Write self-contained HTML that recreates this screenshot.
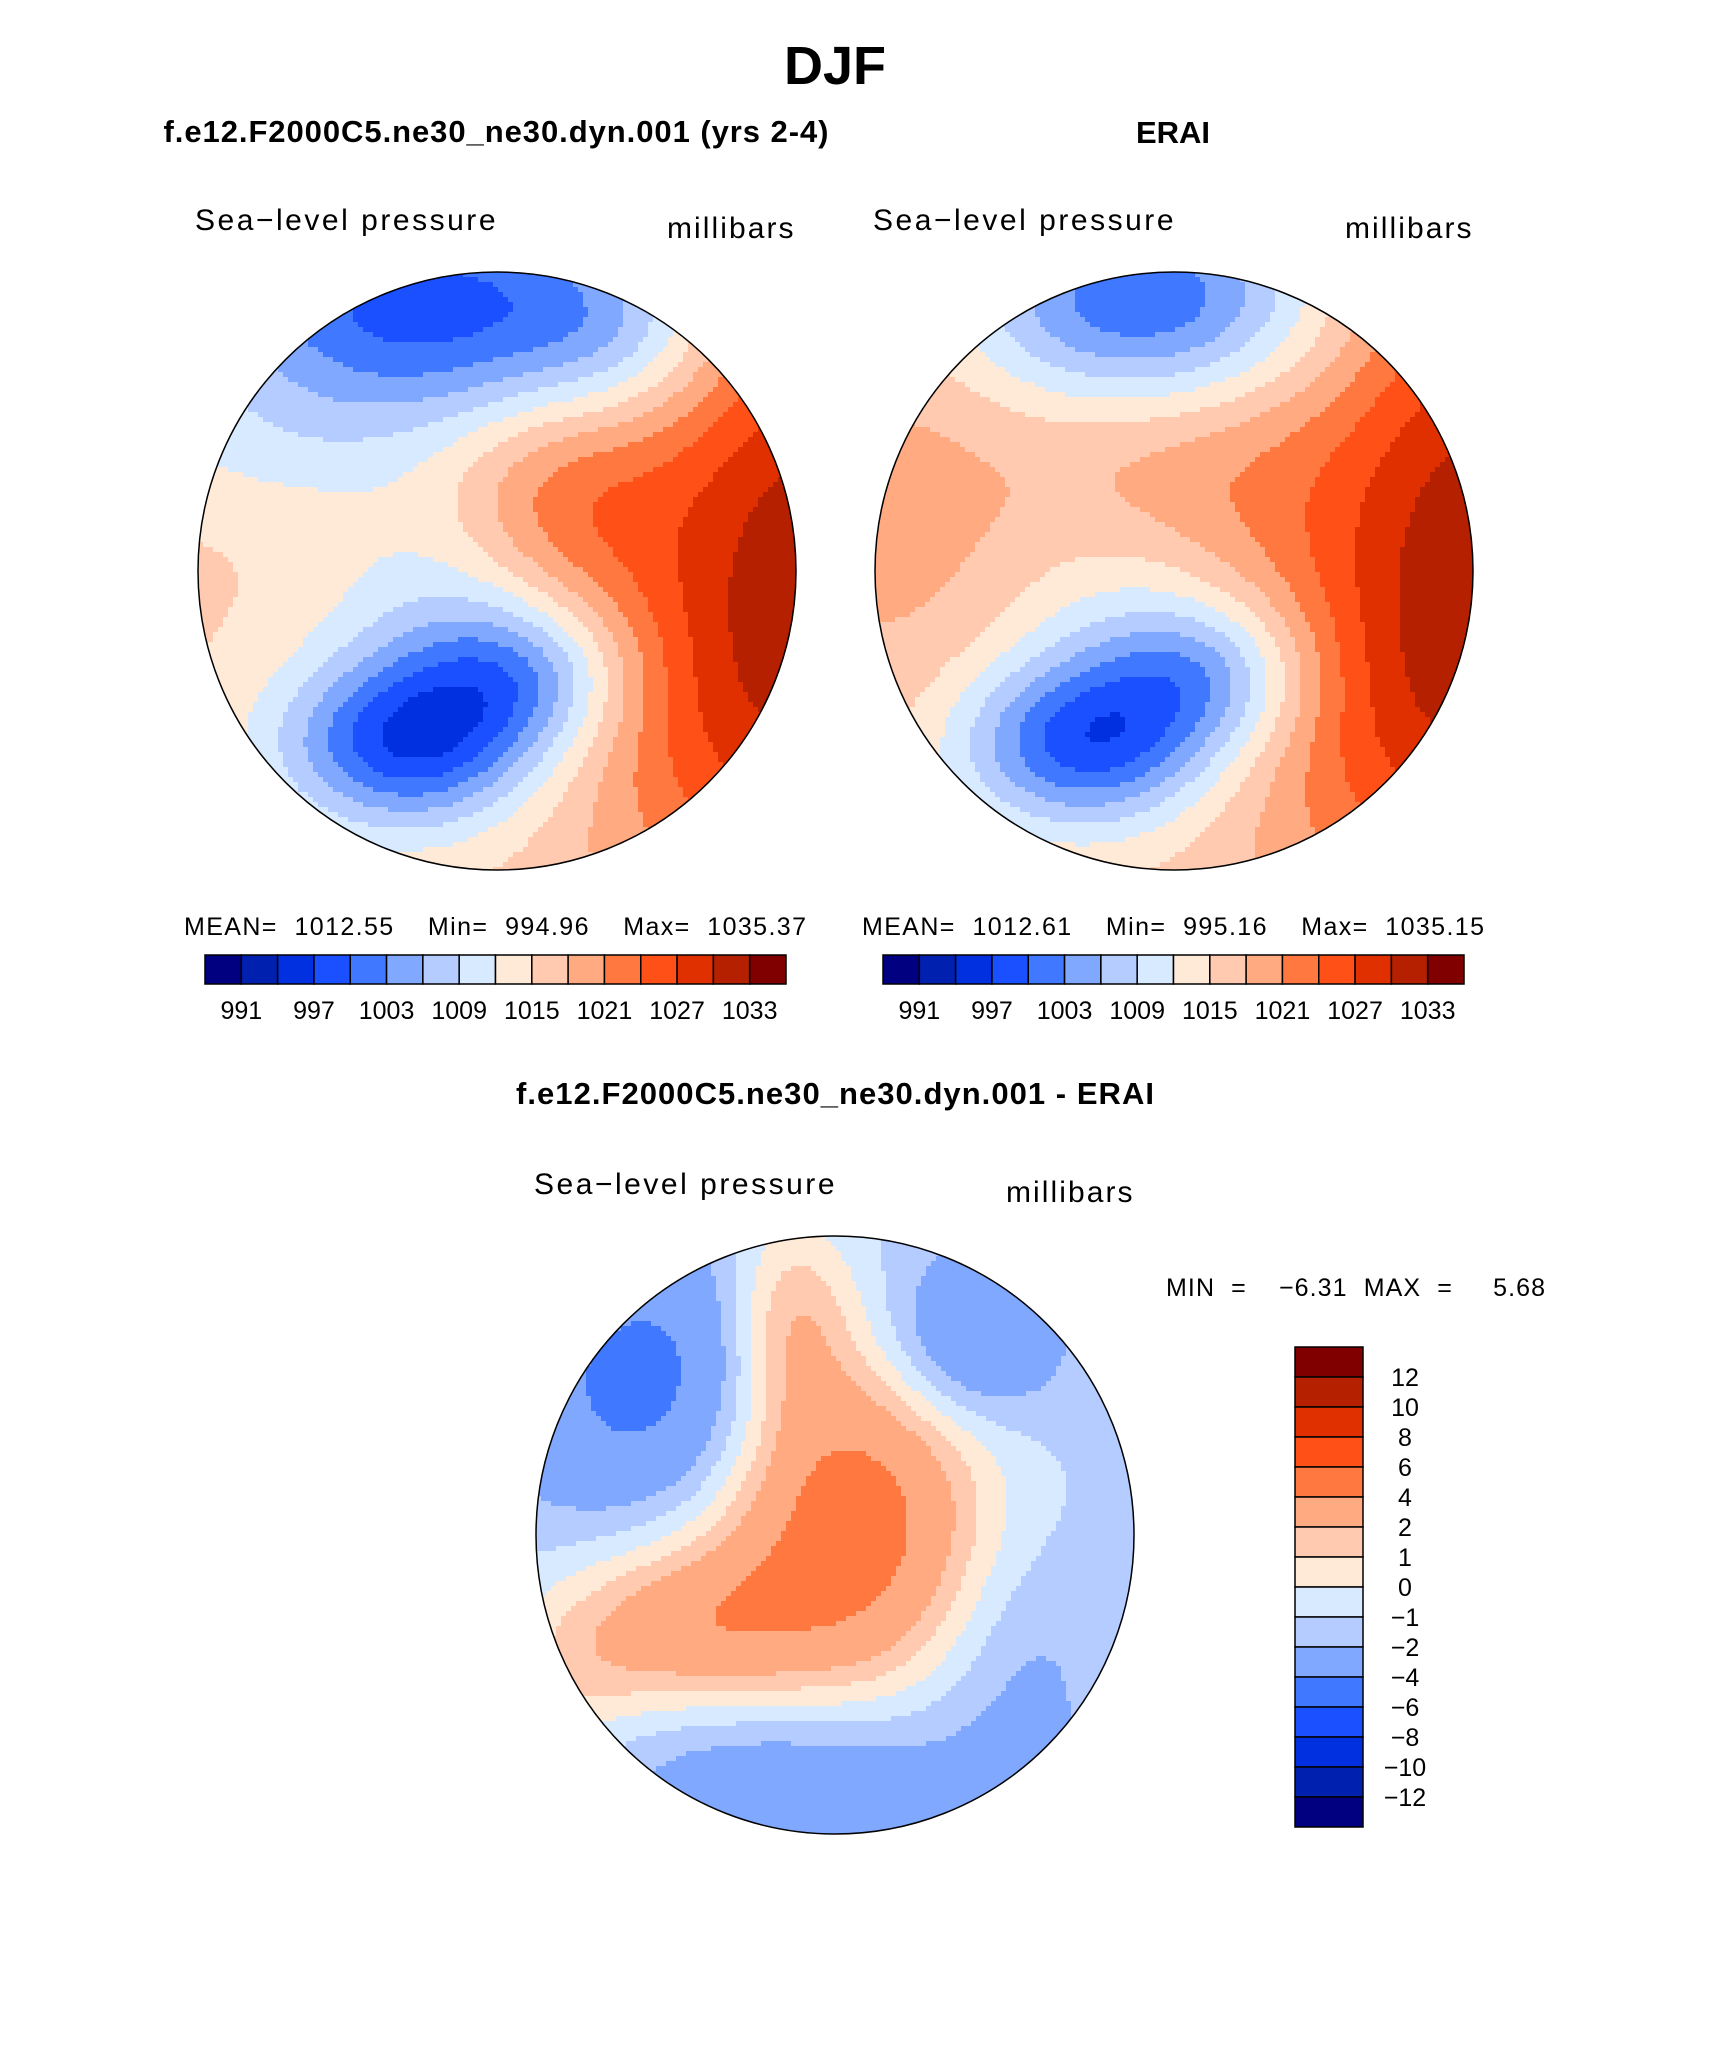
<!DOCTYPE html>
<html><head><meta charset="utf-8">
<style>
html,body{margin:0;padding:0;background:#fff;}
body{width:1710px;height:2061px;position:relative;overflow:hidden;font-family:"Liberation Sans",sans-serif;}
svg{position:absolute;left:0;top:0;}
text{white-space:pre;}
.lbl{font-size:30px;letter-spacing:1.5px;}
</style></head>
<body>
<svg id="fig" width="1710" height="2061" viewBox="0 0 1710 2061">
<text x="835" y="84" font-size="54" font-weight="bold" text-anchor="middle">DJF</text>
<text x="496" y="142" font-size="31" font-weight="bold" text-anchor="middle" textLength="665">f.e12.F2000C5.ne30_ne30.dyn.001 (yrs 2-4)</text>
<text x="1173" y="143" font-size="31" font-weight="bold" text-anchor="middle">ERAI</text>
<text x="835" y="1104" font-size="31" font-weight="bold" text-anchor="middle" textLength="638">f.e12.F2000C5.ne30_ne30.dyn.001 - ERAI</text>

<text class="lbl" x="195" y="230" textLength="302">Sea−level pressure</text>
<text class="lbl" x="667" y="238" textLength="128">millibars</text>
<text class="lbl" x="873" y="230" textLength="302">Sea−level pressure</text>
<text class="lbl" x="1345" y="238" textLength="128">millibars</text>
<text class="lbl" x="534" y="1194" textLength="302">Sea−level pressure</text>
<text class="lbl" x="1006" y="1202" textLength="128">millibars</text>

<text x="184" y="935" font-size="25" textLength="622">MEAN=  1012.55    Min=  994.96    Max=  1035.37</text>
<text x="862" y="935" font-size="25" textLength="622">MEAN=  1012.61    Min=  995.16    Max=  1035.15</text>
<text x="1166" y="1296" font-size="25" textLength="379">MIN  =    −6.31  MAX  =     5.68</text>
<g id="maps"></g>
<g id="bars"></g>
</svg>
<script>
// palette and contour levels
const colors = ["#000080","#0020b0","#0030e0","#1a50ff","#4078ff","#80a8ff","#b4ccff","#d8eaff","#ffead8","#ffcab0","#ffaa80","#ff7840","#ff5018","#e03000","#b42000","#800000"];
const absLevels = [991,994,997,1000,1003,1006,1009,1012,1015,1018,1021,1024,1027,1030,1033];
const absTickLabels = ["991","997","1003","1009","1015","1021","1027","1033"];
const diffLevels = [-12,-10,-8,-6,-4,-2,-1,0,1,2,4,6,8,10,12];
const diffTickLabels = ["12","10","8","6","4","2","1","0","−1","−2","−4","−6","−8","−10","−12"];
// fields: base value + gaussian features [u, v, amplitude, sx, sy]
const modelBase = 1015.5;
const modelFeatures = [[-0.25,-0.88,-17,0.55,0.3],[0.4,-0.8,-5,0.25,0.2],[-0.3,0.58,-17,0.3,0.2],[0.1,0.35,-10,0.25,0.18],[-0.15,0.15,-6,0.3,0.3],[1.05,-0.05,15.5,0.4,0.8],[0.2,-0.25,7.5,0.28,0.28],[0.6,0.5,4,0.4,0.4],[-0.8,-0.4,-2,0.3,0.15]];
const eraiBase = 1016;
const eraiFeatures = [[-0.1,-0.9,-16,0.42,0.25],[-0.3,0.58,-16.5,0.3,0.2],[0.12,0.35,-10,0.25,0.18],[-0.15,0.15,-5,0.3,0.3],[1.05,-0.05,15.5,0.4,0.8],[0.05,-0.3,5,0.4,0.3],[0.6,0.5,4,0.4,0.4],[-0.9,-0.2,3,0.3,0.5]];
const diffBase = -1.3;
const diffFeatures = [[0.05,-0.05,6.5,0.32,0.4],[-0.5,0.3,4,0.3,0.2],[-0.15,-0.72,3,0.15,0.25],[-0.6,-0.5,-3.6,0.32,0.32],[0.45,-0.65,-3.2,0.2,0.2],[-0.1,0.8,-2.2,0.45,0.2],[0.6,0.4,-1.2,0.2,0.3],[-0.9,0.5,1.5,0.2,0.2]];

const NS='http://www.w3.org/2000/svg';
function mk(tag,attrs,parent){const e=document.createElementNS(NS,tag);for(const k in attrs)e.setAttribute(k,attrs[k]);parent.appendChild(e);return e;}
function fieldAt(base,feats,u,v){let s=base;for(const f of feats){const dx=(u-f[0])/f[3],dy=(v-f[1])/f[4];s+=f[2]*Math.exp(-0.5*(dx*dx+dy*dy));}return s;}
function levelIndex(levels,val){let i=0;while(i<levels.length&&val>=levels[i])i++;return i;}
let clipN=0;
function drawMap(name,cx,cy,r,base,feats,levels){
  const maps=document.getElementById('maps');
  const g=mk('g',{},maps);
  
  
  const id='clip'+(clipN++);
  const cp=mk('clipPath',{id:id},g);mk('circle',{cx:cx,cy:cy,r:r},cp);
  const inner=mk('g',{'clip-path':'url(#'+id+')'},g);
  const cell=5,n=Math.ceil(2*r/cell);
  for(let j=0;j<n;j++){
    let runStart=0,runIdx=-1;
    const y=cy-r+j*cell;
    for(let i=0;i<=n;i++){
      let idx=-2;
      if(i<n){const x=cx-r+i*cell+cell/2;const u=(x-cx)/r,v=(y+cell/2-cy)/r;
        if(u*u+v*v<1.08) idx=levelIndex(levels,fieldAt(base,feats,u,v));}
      if(idx!==runIdx){
        if(runIdx>=0){const rc=mk('rect',{x:cx-r+runStart*cell,y:y,width:(i-runStart)*cell+0.6,height:cell+0.6,fill:colors[runIdx]},inner);
          
          }
        runStart=i;runIdx=idx;}
    }
  }
  const outline=mk('circle',{cx:cx,cy:cy,r:r,fill:'none',stroke:'#000','stroke-width':1.5},g);
  
  
}
drawMap('model-map',497,571,299,modelBase,modelFeatures,absLevels);
drawMap('erai-map',1174,571,299,eraiBase,eraiFeatures,absLevels);
drawMap('diff-map',835,1535,299,diffBase,diffFeatures,diffLevels);

function hBar(name,x0,y0,w,h,labels){
  const bars=document.getElementById('bars');
  const g=mk('g',{},bars);
  
  
  const bw=w/colors.length;
  colors.forEach((c,i)=>{const b=mk('rect',{x:x0+i*bw,y:y0,width:bw,height:h,fill:c,stroke:'#000','stroke-width':1.5},g);
    
    });
  labels.forEach((t,k)=>{const tx=mk('text',{x:x0+(1+2*k)*bw,y:y0+h+35,'font-size':25,'text-anchor':'middle'},g);tx.textContent=t;
    
    });
}
hBar('model-colorbar',205,955,581,29,absTickLabels);
hBar('erai-colorbar',883,955,581,29,absTickLabels);

(function(){
  const bars=document.getElementById('bars');
  const g=mk('g',{},bars);
  
  
  const x0=1295,y0=1347,w=68,h=480,bh=h/colors.length;
  colors.slice().reverse().forEach((c,i)=>{const b=mk('rect',{x:x0,y:y0+i*bh,width:w,height:bh,fill:c,stroke:'#000','stroke-width':1.5},g);
    
    });
  diffTickLabels.forEach((t,k)=>{const tx=mk('text',{x:1405,y:y0+(k+1)*bh+9,'font-size':25,'text-anchor':'middle'},g);tx.textContent=t;
    
    });
})();
</script>
</body></html>
